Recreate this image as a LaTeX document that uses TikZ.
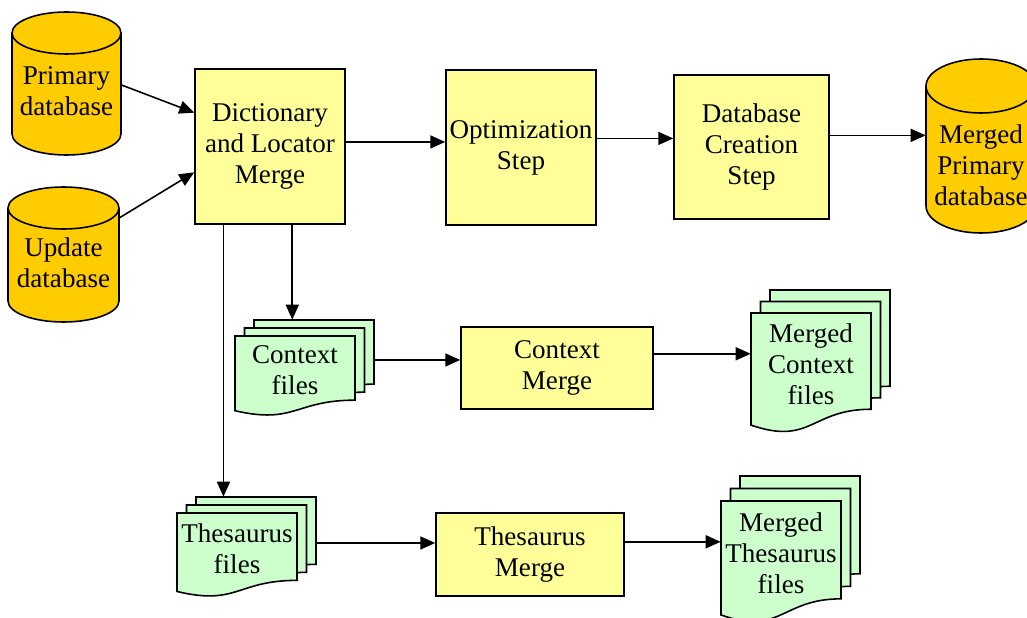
\documentclass[tikz,border=0pt]{standalone}
\usepackage{fontspec}
\setmainfont{Liberation Serif}
\usepackage{tikz}
\usetikzlibrary{positioning, fit, calc, arrows.meta}
\tikzstyle{chart} = [x = 0.02cm, y = -0.02cm]
\definecolor{stepColor}{RGB}{255,255,153}
\definecolor{dbColor}{RGB}{255,204,0}
\definecolor{docColor}{RGB}{204,255,204}
\tikzstyle{nodeText} = [align=center, inner sep=0, font=\fontsize{15.4}{17.6}\selectfont]
\tikzstyle{stepStyle} = [draw=black, fill=stepColor, inner sep=0, line width=0.9pt]
\tikzstyle{dbStyle} = [draw=black, fill=dbColor, line width=0.9pt]
\tikzstyle{dbLine} = [draw=black, line width=0.9pt]
\tikzstyle{docStyle} = [draw=black, fill=docColor, line width=0.9pt]
\tikzstyle{flowLine} = [-{Triangle[length=8.5pt, width=7.4pt]}, line width=0.9pt]
\newcommand{\docDx}{9.5}
\newcommand{\stepBox}[6]{
  \node [stepStyle, fit={(#2,#3) (#4,#5)}] (#1) {};
  \node [nodeText] (#1-text) at (#1.center) {#6};
}
\newcommand{\database}[8]{
  \pgfmathsetmacro{\dbX}{(#2 + #4) / 2}
  \pgfmathsetmacro{\dbRx}{(#4 - #2) / 2}
  \filldraw [dbStyle] (\dbX, #5 - #6) ellipse [x radius=\dbRx, y radius=#6];
  \fill [dbColor] (#2, #3 + #6) rectangle (#4, #5 - #6);
  \draw [dbLine] (#2, #3 + #6) -- (#2, #5 - #6) (#4, #3 + #6) -- (#4, #5 - #6);
  \filldraw [dbStyle] (\dbX, #3 + #6) ellipse [x radius=\dbRx, y radius=#6];
  \node [fit={(#2,#3) (#4,#5)}, inner sep=0] (#1) {};
  \node [nodeText] (#1-text) at (\dbX, #7) {#8};
}
\newcommand{\docStack}[7]{
  \foreach \layer in {2,1,0} {
    \pgfmathsetmacro{\docL}{#2 + \layer * \docDx}
    \pgfmathsetmacro{\docT}{#3 - \layer * #6}
    \filldraw [docStyle] (\docL, \docT) -- (\docL + #4, \docT) -- (\docL + #4, \docT + 0.802 * #5)
      .. controls (\docL + 0.5 * #4, \docT + 0.802 * #5) and (\docL + 0.5 * #4, \docT + 1.107 * #5) .. (\docL, \docT + 0.934 * #5) -- cycle;
  }
  \node [fit={(#2, #3 - 2 * #6) (#2 + #4 + 2 * \docDx, #3 + #5)}, inner sep=0] (#1) {};
  \node [nodeText] (#1-text) at (#2 + 0.5 * #4, #3 + 0.43 * #5) {#7};
}

\begin{document}
\begin{tikzpicture}[chart]
  \useasboundingbox (0,0) rectangle (1027,618);
  \database{pdb}{12}{12}{121}{155}{21}{91}{Primary\\database}
  \database{udb}{8}{187}{119}{322}{21}{263}{Update\\database}
  \database{mpdb}{926}{59}{1036}{233}{27}{165}{Merged\\Primary\\database}

  \stepBox{dict}{195}{69}{345}{224}{Dictionary\\and Locator\\Merge}
  \stepBox{opt}{446}{70}{596}{225}{Optimization\\Step}
  \stepBox{dbc}{674}{75}{829}{219}{Database\\Creation\\Step}
  \stepBox{ctxm}{461}{327}{653}{409}{Context\\Merge}
  \stepBox{thsm}{436}{513}{624}{596}{Thesaurus\\Merge}

  \docStack{ctx}{235}{336}{120}{80}{8}{Context\\files}
  \docStack{mctx}{751}{313}{120}{120}{11.5}{Merged\\Context\\files}
  \docStack{ths}{177}{513}{120}{84}{8}{Thesaurus\\files}
  \docStack{mths}{721}{501}{120}{122}{12.5}{Merged\\Thesaurus\\files}

  \draw [flowLine] ($(pdb.north east)!0.51!(pdb.south east)$) -- ($(dict.north west)!0.284!(dict.south west)$);
  \draw [flowLine] ($(udb.north east)!0.23!(udb.south east)$) -- ($(dict.north west)!0.665!(dict.south west)$);
  \draw [flowLine] ($(dict.north east)!0.471!(dict.south east)$) coordinate (dictOut) -- (dictOut -| opt.west);
  \draw [flowLine] ($(opt.north east)!0.442!(opt.south east)$) coordinate (optOut) -- (optOut -| dbc.west);
  \draw [flowLine] ($(dbc.north east)!0.42!(dbc.south east)$) coordinate (dbcOut) -- (dbcOut -| mpdb.west);
  \draw [flowLine] ($(dict.south west)!0.647!(dict.south east)$) coordinate (ctxIn) -- (ctxIn |- ctx.north);
  \draw [flowLine] ($(dict.south west)!0.193!(dict.south east)$) coordinate (thsIn) -- (thsIn |- ths.north);
  \draw [flowLine] ($(ctx.north east)!0.417!(ctx.south east)$) coordinate (ctxOut) -- (ctxOut -| ctxm.west);
  \draw [flowLine] ($(ctxm.north east)!0.33!(ctxm.south east)$) coordinate (ctxmOut) -- (ctxmOut -| mctx.west);
  \draw [flowLine] ($(ths.north east)!0.46!(ths.south east)$) coordinate (thsOut) -- (thsOut -| thsm.west);
  \draw [flowLine] ($(thsm.north east)!0.35!(thsm.south east)$) coordinate (thsmOut) -- (thsmOut -| mths.west);
\end{tikzpicture}
\end{document}
